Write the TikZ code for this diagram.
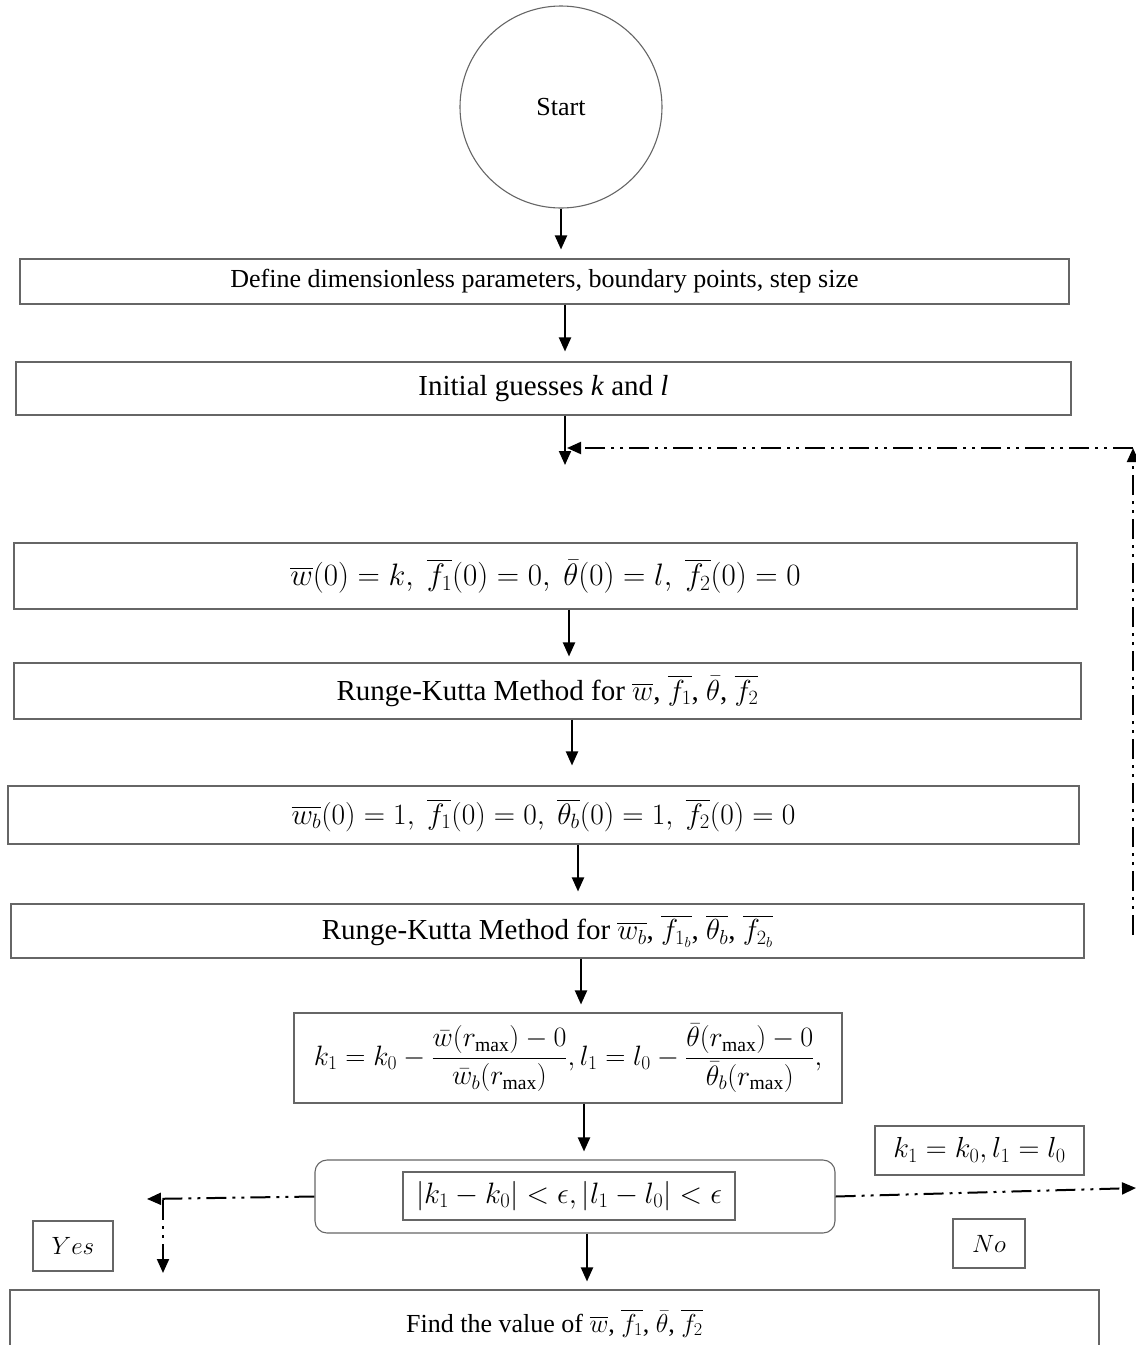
\RequirePackage{fix-cm}
\documentclass[tikz,border=0pt]{standalone}
\usepackage{amsmath}
\usepackage{fontspec}
\setmainfont{Liberation Serif}
\usetikzlibrary{arrows.meta,calc}
\begin{document}
\begin{tikzpicture}[x=1pt,y=-1pt,
  box/.style={draw=black!60, line width=1.1pt, inner sep=0pt, align=center},
  arr/.style={line width=2pt, -{Triangle[length=14pt,width=12pt]}},
  dd/.style={line width=2pt, dash pattern=on 20pt off 6pt on 3pt off 6pt on 3pt off 6pt, -{Triangle[length=14pt,width=12pt]}}]
\useasboundingbox (0,0) rectangle (1136,1345);
\clip (0,0) rectangle (1136,1345);
% nodes
\node[box, circle, minimum size=202pt, font=\fontsize{26}{30}\selectfont] (start) at (561,107) {Start};
\node[box, minimum width=1049pt, minimum height=45pt, font=\fontsize{26}{30}\selectfont] (b1) at (544.5,281.5) {\raisebox{-3pt}{Define dimensionless parameters, boundary points, step size}};
\node[box, minimum width=1055pt, minimum height=53pt, font=\fontsize{29}{34}\selectfont] (b2) at (543.5,388.5) {Initial guesses \textit{k} and \textit{l}};
\node[box, minimum width=1063pt, minimum height=66pt, font=\fontsize{31}{36}\selectfont] (b3) at (545.5,576) {$\overline{w}(0)=k,\ \overline{f_1}(0)=0,\ \bar{\theta}(0)=l,\ \overline{f_2}(0)=0$};
\node[box, minimum width=1067pt, minimum height=56pt, font=\fontsize{29}{34}\selectfont] (b4) at (547.5,691) {Runge-Kutta Method for $\overline{w}$, $\overline{f_1}$, $\bar{\theta}$, $\overline{f_2}$};
\node[box, minimum width=1071pt, minimum height=58pt, font=\fontsize{29.5}{34}\selectfont] (b5) at (543.5,815) {$\overline{w_b}(0)=1,\ \overline{f_1}(0)=0,\ \overline{\theta_b}(0)=1,\ \overline{f_2}(0)=0$};
\node[box, minimum width=1073pt, minimum height=54pt, font=\fontsize{29}{34}\selectfont] (b6) at (547.5,931) {Runge-Kutta Method for $\overline{w_b}$, $\overline{f_{1_b}}$, $\overline{\theta_b}$, $\overline{f_{2_b}}$};
\node[box, minimum width=548pt, minimum height=90pt, font=\fontsize{28}{32}\selectfont] (b7) at (568,1058) {$k_1=k_0-\dfrac{\bar{w}(r_{\max})-0}{\bar{w}_b(r_{\max})},l_1=l_0-\dfrac{\bar{\theta}(r_{\max})-0}{\bar{\theta}_b(r_{\max})},$};
\node[box, rounded corners=12pt, minimum width=520pt, minimum height=73pt] (dec) at (575,1196.5) {};
\node[box, minimum width=332pt, minimum height=48pt, font=\fontsize{29.5}{34}\selectfont] (cond) at (569,1196) {$|k_1-k_0|<\epsilon,|l_1-l_0|<\epsilon$};
\node[box, minimum width=209pt, minimum height=49pt, font=\fontsize{29}{34}\selectfont] (upd) at (979.5,1150.5) {$k_1=k_0,l_1=l_0$};
\node[box, minimum width=80pt, minimum height=50pt, font=\fontsize{25}{30}\selectfont] (yes) at (73,1246) {$Yes$};
\node[box, minimum width=72pt, minimum height=49pt, font=\fontsize{25}{30}\selectfont] (no) at (989,1243.5) {$No$};
\node[box, minimum width=1089pt, minimum height=66pt, font=\fontsize{26}{30}\selectfont] (fin) at (554.5,1323) {Find the value of $\overline{w}$, $\overline{f_1}$, $\bar{\theta}$, $\overline{f_2}$};
% x positions of connectors
\coordinate (x2) at (565,0);
\coordinate (x4) at (569,0);
\coordinate (x5) at (572,0);
\coordinate (x6) at (578,0);
\coordinate (x7) at (581,0);
\coordinate (x8) at (584,0);
\coordinate (x9) at (587,0);
\coordinate (p3) at (565,465);
\coordinate (r1) at (1133,935);
\coordinate (r2) at (1133,448);
\coordinate (r3) at (567,448);
\coordinate (yl) at (147,1199);
\coordinate (yd1) at (163,1200);
\coordinate (yd2) at (163,1273);
\coordinate (nr) at (1136,1188);
% connectors
\draw[arr, shorten >=9pt] (start.south) -- (b1.north -| start);
\draw[arr, shorten >=10pt] (b1.south -| x2) -- (b2.north -| x2);
\draw[arr] (b2.south -| x2) -- (p3);
\draw[dd] (r1) -- (r2);
\draw[dd] (r2) -- (r3);
\draw[arr, shorten >=6pt] (b3.south -| x4) -- (b4.north -| x4);
\draw[arr, shorten >=20pt] (b4.south -| x5) -- (b5.north -| x5);
\draw[arr, shorten >=12pt] (b5.south -| x6) -- (b6.north -| x6);
\draw[arr, shorten >=8pt] (b6.south -| x7) -- (b7.north -| x7);
\draw[arr, shorten >=8pt] (b7.south -| x8) -- (dec.north -| x8);
\draw[arr, shorten >=8pt] (dec.south -| x9) -- (fin.north -| x9);
\draw[dd] (dec.west) -- (yl);
\draw[dd] (yd1) -- (yd2);
\draw[dd] (dec.east) -- (nr);
\end{tikzpicture}
\end{document}
